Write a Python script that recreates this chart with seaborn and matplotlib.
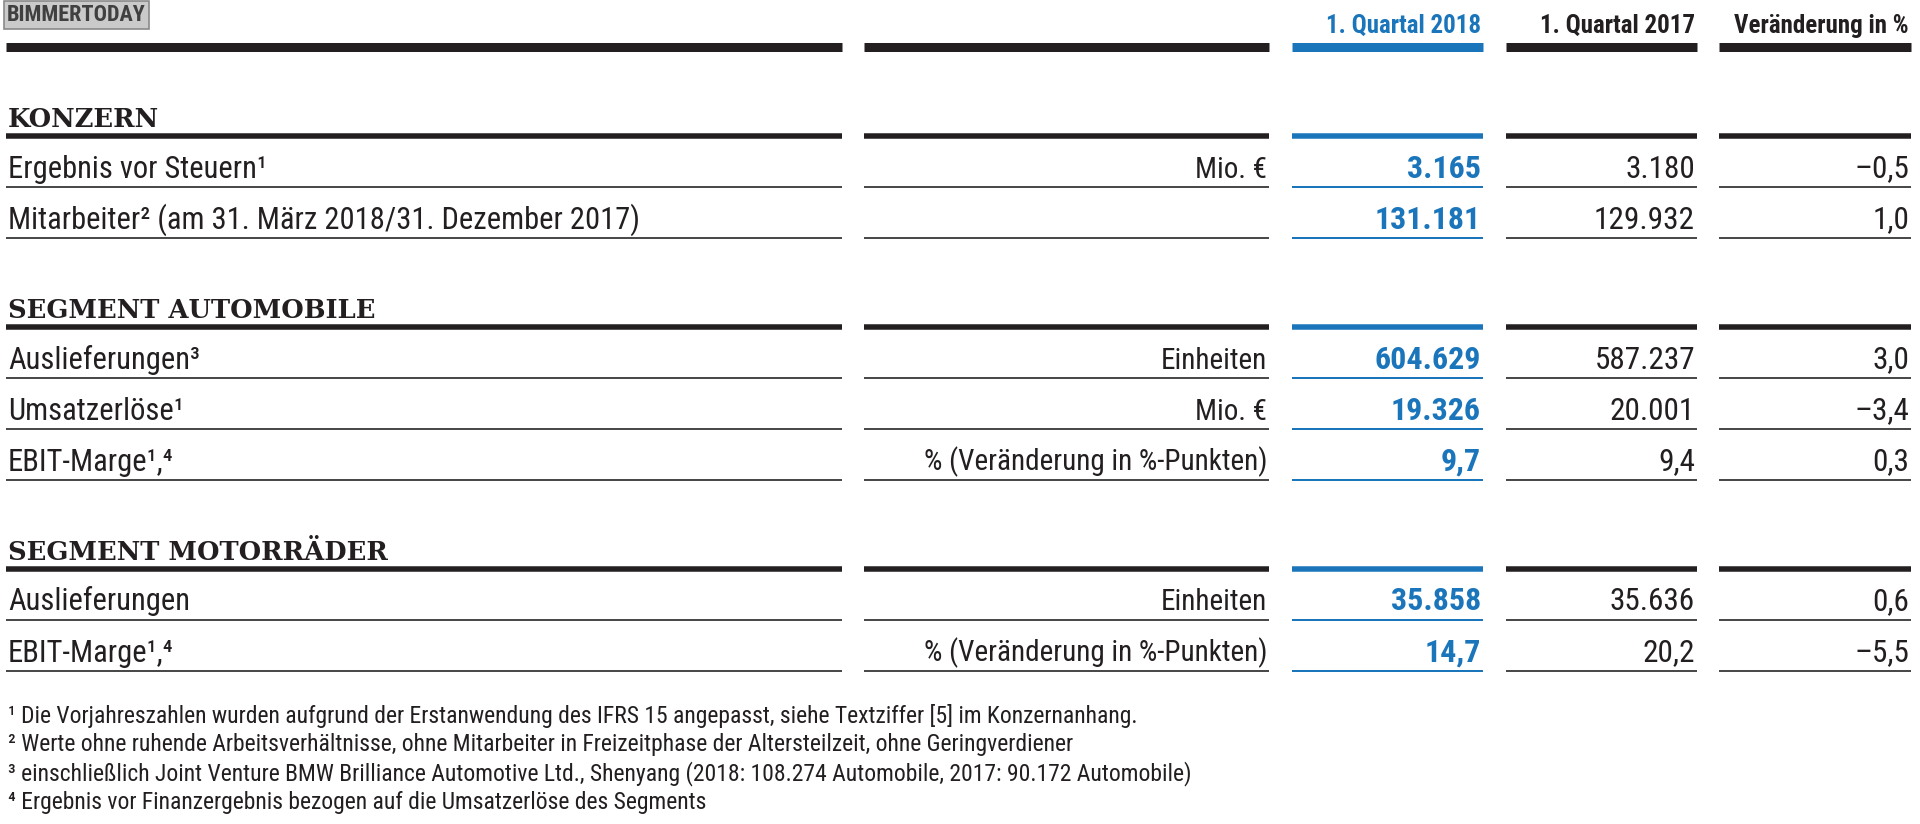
import matplotlib
matplotlib.use('Agg')
import matplotlib.pyplot as plt
import seaborn as sns
from matplotlib import font_manager

# Data
sections = ['KONZERN', 'SEGMENT AUTOMOBILE', 'SEGMENT MOTORRÄDER']
row_section = [0, 0, 1, 1, 1, 2, 2]
row_labels = ['Ergebnis vor Steuern¹',
              'Mitarbeiter² (am 31. März 2018/31. Dezember 2017)',
              'Auslieferungen³',
              'Umsatzerlöse¹',
              'EBIT-Marge¹,⁴',
              'Auslieferungen',
              'EBIT-Marge¹,⁴']
units = ['Mio. €', '', 'Einheiten', 'Mio. €',
         '% (Veränderung in %-Punkten)', 'Einheiten',
         '% (Veränderung in %-Punkten)']
q1_2018 = ['3.165', '131.181', '604.629', '19.326', '9,7', '35.858', '14,7']
q1_2017 = ['3.180', '129.932', '587.237', '20.001', '9,4', '35.636', '20,2']
change_pct = ['–0,5', '1,0', '3,0', '–3,4', '0,3', '0,6', '–5,5']
col_headers = ['1. Quartal 2018', '1. Quartal 2017', 'Veränderung in %']
footnotes = [
    '¹ Die Vorjahreszahlen wurden aufgrund der Erstanwendung des IFRS 15 angepasst, siehe Textziffer [5] im Konzernanhang.',
    '² Werte ohne ruhende Arbeitsverhältnisse, ohne Mitarbeiter in Freizeitphase der Altersteilzeit, ohne Geringverdiener',
    '³ einschließlich Joint Venture BMW Brilliance Automotive Ltd., Shenyang (2018: 108.274 Automobile, 2017: 90.172 Automobile)',
    '⁴ Ergebnis vor Finanzergebnis bezogen auf die Umsatzerlöse des Segments',
]

sns.set_theme(style='white')

installed = {f.name for f in font_manager.fontManager.ttflist}
def pick(cands):
    for c in cands:
        if c in installed:
            return c
    return 'DejaVu Sans'

narrow = pick(['Roboto Condensed', 'Liberation Sans Narrow', 'DejaVu Sans Condensed',
               'Liberation Sans', 'Roboto'])
serif = pick(['DejaVu Serif', 'Liberation Serif'])
plt.rcParams['font.family'] = [narrow, 'DejaVu Sans']

BLUE = '#1b75bb'
DARK = '#231f20'
GRAY = '#4a4a4a'

fig = plt.figure(figsize=(19.2, 8.24), dpi=100)
ax = fig.add_axes([0, 0, 1, 1])
ax.set_xlim(0, 1920)
ax.set_ylim(824, 0)
ax.axis('off')

# column spans (pixels)
cols = [(6, 842), (864, 1269), (1292, 1483), (1506, 1697), (1719, 1911)]
col_colors = [DARK, DARK, BLUE, DARK, DARK]


def rule(y, lw_px, thin=False):
    for (x0, x1), c in zip(cols, col_colors):
        color = c if (c == BLUE or not thin) else GRAY
        ax.hlines(y, x0, x1, color=color, lw=lw_px * 0.72)


# header
for (x0, x1), h, c in zip(cols[2:], col_headers, col_colors[2:]):
    ax.text(x1 - 2, 33, h, ha='right', va='baseline', fontsize=18,
            fontweight='bold', color=c)
rule(46.5, 9)

# body
y = 46.5
pitch = 51
gap = 89
prev_sec = None
for i, lab in enumerate(row_labels):
    sec = row_section[i]
    if sec != prev_sec:
        y = y + gap if prev_sec is not None else 135.5
        ax.text(8, y - 9, sections[sec], ha='left', va='baseline',
                fontsize=18.5, fontweight='bold', color=DARK, family=serif)
        rule(y, 5.5)
        prev_sec = sec
    y += pitch
    base = y - 9
    ax.text(8, base, lab, ha='left', va='baseline', fontsize=22, color=DARK)
    ax.text(cols[1][1] - 2, base, units[i], ha='right', va='baseline',
            fontsize=21, color=DARK)
    ax.text(cols[2][1] - 2, base, q1_2018[i], ha='right', va='baseline',
            fontsize=23, fontweight='bold', color=BLUE)
    ax.text(cols[3][1] - 2, base, q1_2017[i], ha='right', va='baseline',
            fontsize=22.5, color=DARK)
    ax.text(cols[4][1] - 2, base, change_pct[i], ha='right', va='baseline',
            fontsize=22.5, color=DARK)
    rule(y, 2, thin=True)

# footnotes
for k, fn in enumerate(footnotes):
    ax.text(8, 723 + k * 28.5, fn, ha='left', va='baseline', fontsize=17,
            color=DARK)

# watermark
ax.text(7, 21, 'BIMMERTODAY', ha='left', va='baseline', fontsize=16,
        fontweight='bold', color='#404040',
        bbox=dict(boxstyle='square,pad=0.15', fc='#cacaca', ec='#8a8a8a', lw=1.2))

fig.savefig('out.png', dpi=100)
plt.close(fig)
